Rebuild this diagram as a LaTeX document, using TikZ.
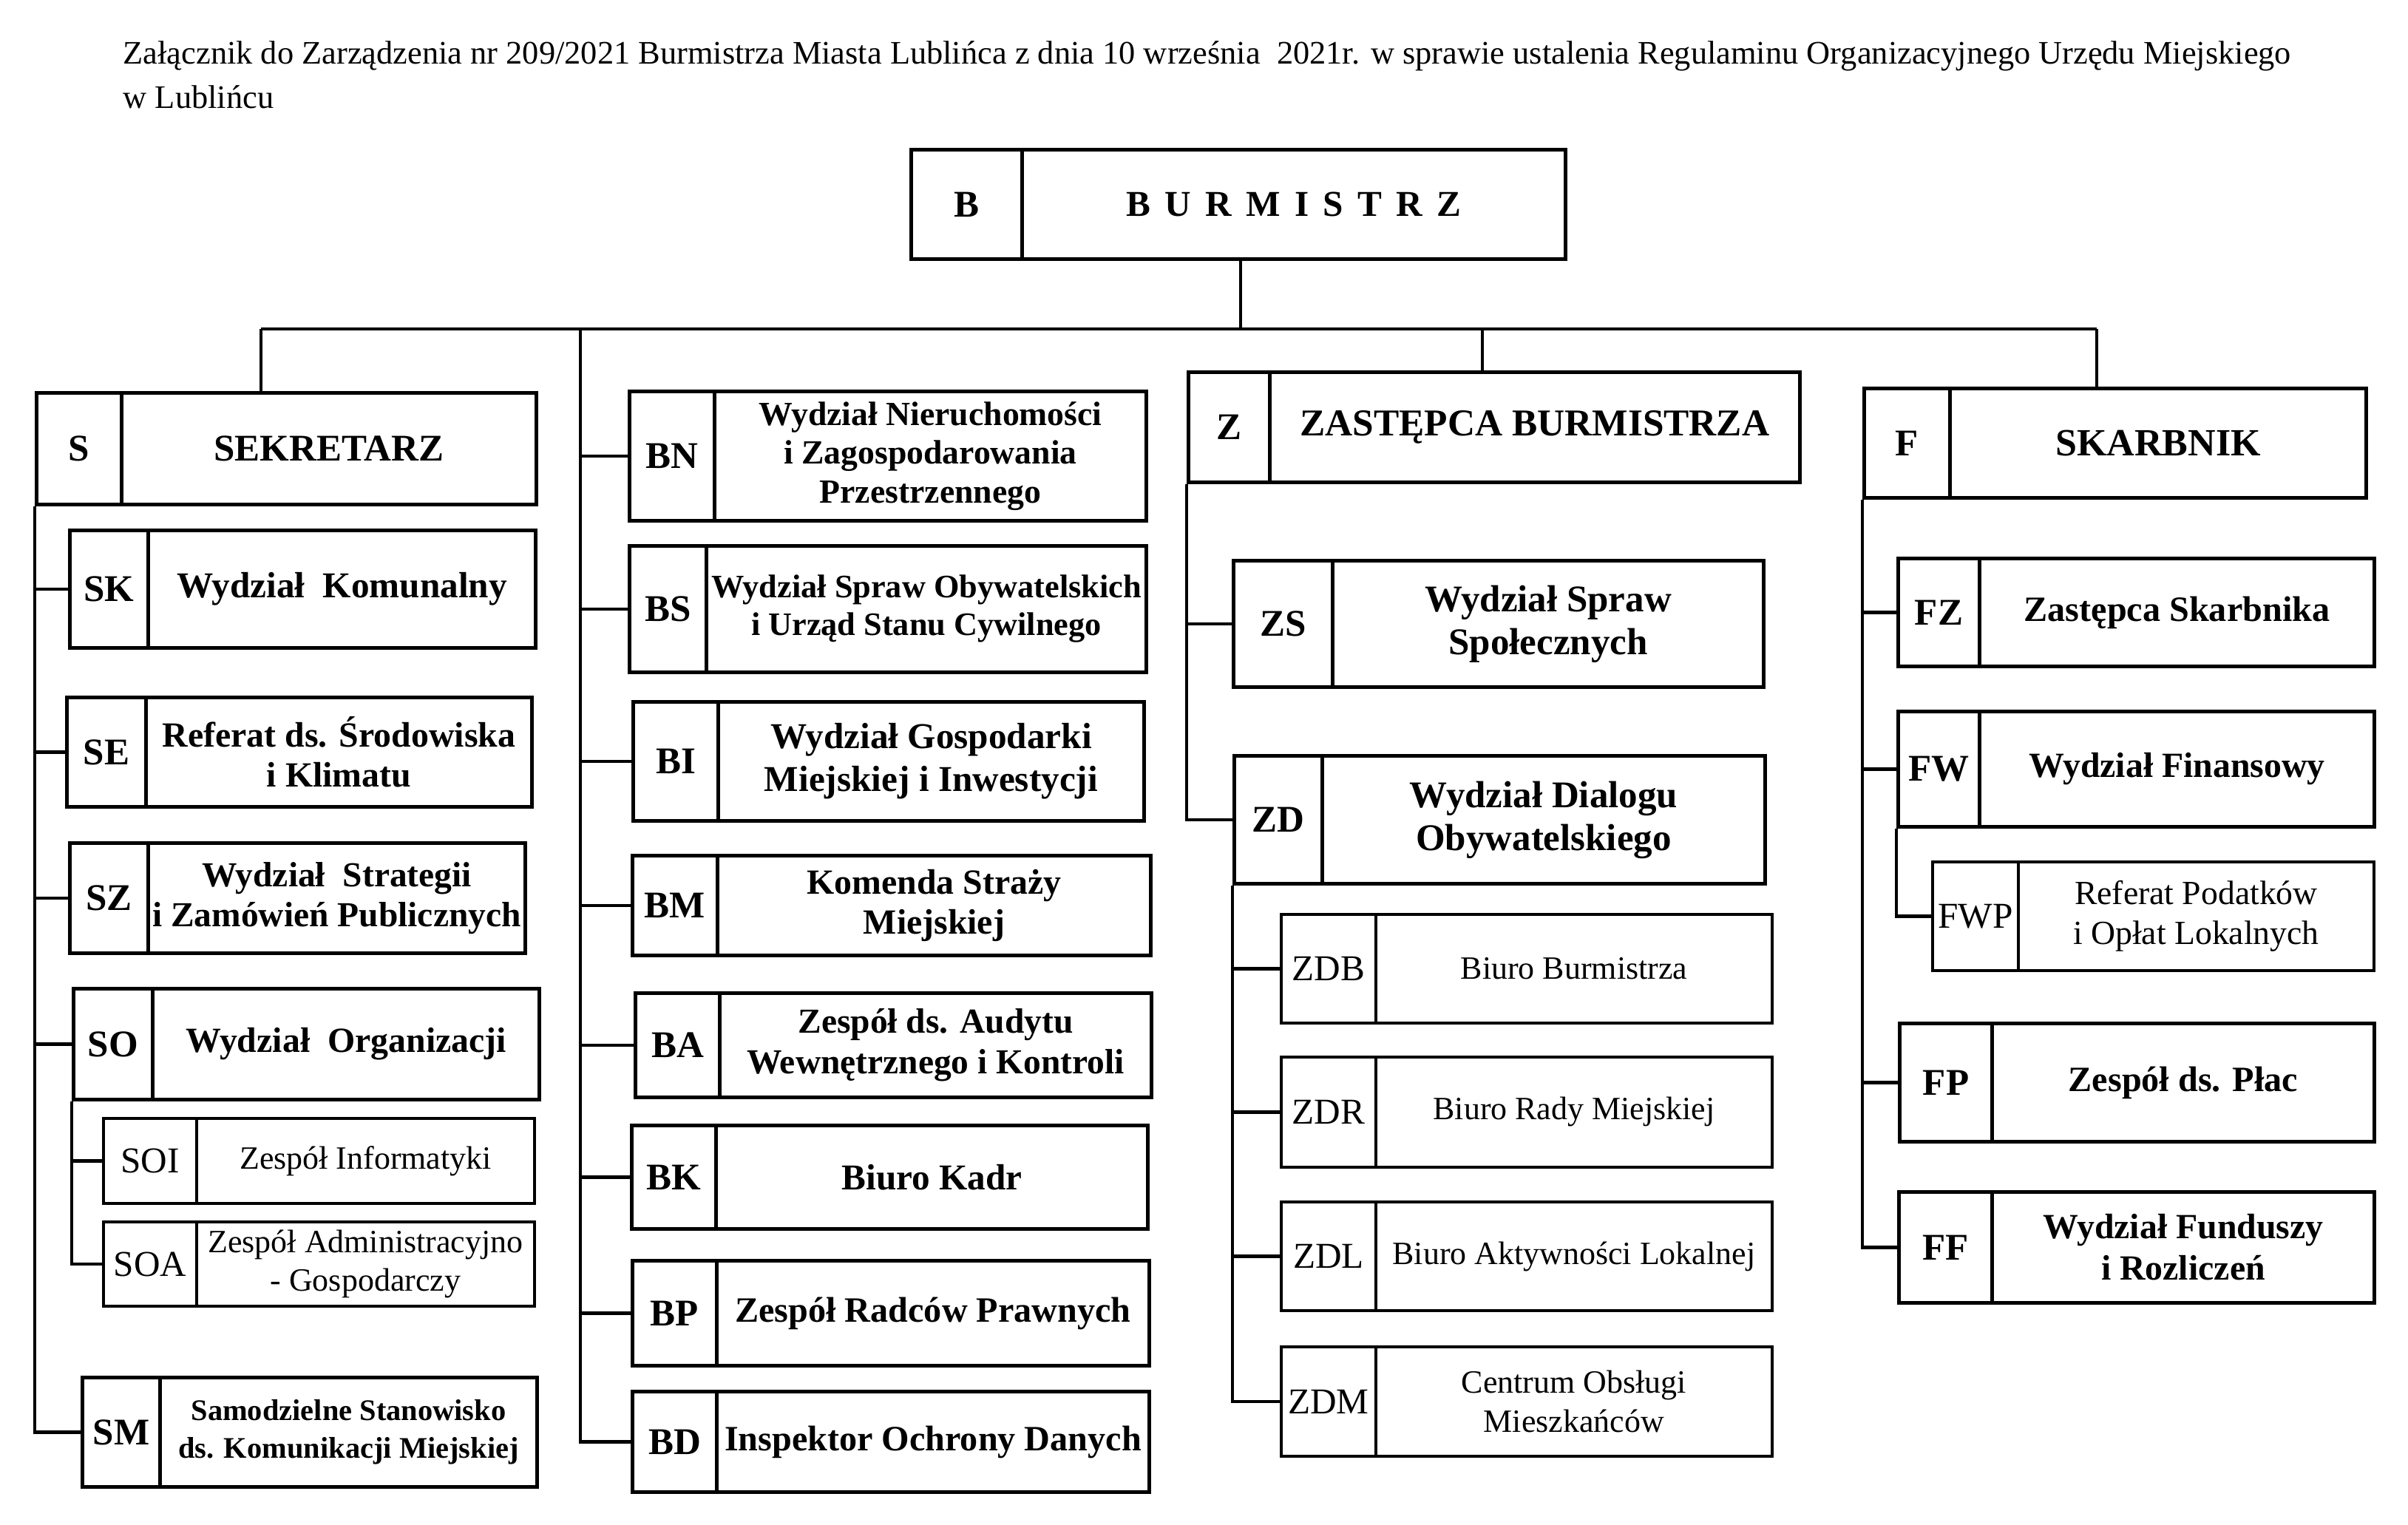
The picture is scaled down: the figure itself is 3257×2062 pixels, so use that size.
\documentclass[tikz,border=0pt]{standalone}
\usepackage{fontspec}
\setmainfont{Liberation Serif}
\newcommand{\fs}[2]{\fontsize{#1}{#2}\selectfont}
\newcommand{\lsp}{\kern5.5pt}
\tikzset{
  unitbox/.style={draw, line width=1.4pt, inner sep=0pt, align=center, anchor=north west},
  subbox/.style={draw, line width=1.1pt, inner sep=0pt, align=center, anchor=north west},
  codefont/.style={font=\bfseries\fs{14.5}{16}},
  namefont/.style={font=\bfseries\fs{14}{16}},
  subcodefont/.style={font=\fs{14}{16}},
  subnamefont/.style={font=\fs{12.5}{15}},
  conn/.style={line width=1.2pt, line join=miter},
  titletext/.style={anchor=base west, inner sep=0pt, font=\fs{12.63}{15}}
}
% #1 name, #2 x1, #3 y1, #4 x divider, #5 x2, #6 y2, #7 extra name options, #8 code, #9 text
\newcommand{\orgunit}[9]{%
  \pgfmathsetmacro\wa{(#4-#2)*0.01}%
  \pgfmathsetmacro\wb{(#5-#4)*0.01}%
  \pgfmathsetmacro\hh{(#6-#3)*0.01}%
  \node[unitbox, codefont, minimum width=\wa cm, minimum height=\hh cm] (#1c) at (#2,#3) {#8};
  \node[unitbox, namefont, #7, minimum width=\wb cm, minimum height=\hh cm] (#1n) at (#4,#3) {#9};}
\newcommand{\subunit}[9]{%
  \pgfmathsetmacro\wa{(#4-#2)*0.01}%
  \pgfmathsetmacro\wb{(#5-#4)*0.01}%
  \pgfmathsetmacro\hh{(#6-#3)*0.01}%
  \node[subbox, subcodefont, minimum width=\wa cm, minimum height=\hh cm] (#1c) at (#2,#3) {#8};
  \node[subbox, subnamefont, #7, minimum width=\wb cm, minimum height=\hh cm] (#1n) at (#4,#3) {#9};}
\begin{document}
\begin{tikzpicture}[x=0.01cm, y=-0.01cm]
\useasboundingbox[fill=white] (0,0) rectangle (3257,2062);

% title
\node[titletext] (title1) at (166,86) {Załącznik do Zarządzenia nr 209/2021 Burmistrza Miasta Lublińca z dnia 10 września\ \ 2021r. w sprawie ustalenia Regulaminu Organizacyjnego Urzędu Miejskiego};
\node[titletext] (title2) at (166,146) {w Lublińcu};

% Burmistrz
\orgunit{B}{1230}{200}{1380}{2115}{348}{}{B}{B\lsp U\lsp R\lsp M\lsp I\lsp S\lsp T\lsp R\lsp Z}

% Sekretarz column
\orgunit{S}{47}{529}{162}{723}{680}{font=\bfseries\fs{14.5}{16}}{S}{SEKRETARZ}
\orgunit{SK}{92}{715}{198}{722}{874}{}{SK}{Wydział\ \ Komunalny}
\orgunit{SE}{88}{941}{195}{717}{1089}{font=\bfseries\fs{13.6}{15.5}}{SE}{Referat ds. Środowiska\\i Klimatu}
\orgunit{SZ}{92}{1138}{198}{708}{1287}{font=\bfseries\fs{13.5}{15.5}}{SZ}{Wydział\ \ Strategii\\i Zamówień Publicznych}
\orgunit{SO}{97}{1335}{204}{727}{1485}{font=\bfseries\fs{13.6}{16}}{SO}{Wydział\ \ Organizacji}
\subunit{SOI}{138}{1511}{264}{721}{1626}{}{SOI}{Zespół Informatyki}
\subunit{SOA}{138}{1651}{264}{721}{1765}{}{SOA}{Zespół Administracyjno\\- Gospodarczy}
\orgunit{SM}{109}{1861}{214}{724}{2009}{font=\bfseries\fs{11.5}{14.5}}{SM}{Samodzielne Stanowisko\\ds. Komunikacji Miejskiej}

% Burmistrz column
\orgunit{BN}{849}{527}{964}{1548}{702}{font=\bfseries\fs{13}{15}}{BN}{Wydział Nieruchomości\\i Zagospodarowania\\Przestrzennego}
\orgunit{BS}{849}{736}{953}{1548}{907}{font=\bfseries\fs{12.6}{14.5}}{BS}{Wydział Spraw Obywatelskich\\i Urząd Stanu Cywilnego}
\orgunit{BI}{854}{947}{969}{1545}{1108}{font=\bfseries\fs{14}{16.5}}{BI}{Wydział Gospodarki\\Miejskiej i Inwestycji}
\orgunit{BM}{853}{1155}{968}{1554}{1290}{font=\bfseries\fs{13.6}{15.5}}{BM}{Komenda Straży\\Miejskiej}
\orgunit{BA}{857}{1341}{971}{1555}{1482}{font=\bfseries\fs{13.5}{15.5}}{BA}{Zespół ds. Audytu\\Wewnętrznego i Kontroli}
\orgunit{BK}{852}{1520}{966}{1550}{1660}{}{BK}{Biuro Kadr}
\orgunit{BP}{853}{1703}{967}{1552}{1845}{font=\bfseries\fs{13.7}{16}}{BP}{Zespół Radców Prawnych}
\orgunit{BD}{853}{1880}{967}{1552}{2016}{font=\bfseries\fs{13.7}{16}}{BD}{Inspektor Ochrony Danych}

% Zastepca column
\orgunit{Z}{1605}{501}{1715}{2432}{650}{font=\bfseries\fs{14.6}{16}}{Z}{ZASTĘPCA BURMISTRZA}
\orgunit{ZS}{1666}{756}{1800}{2383}{927}{font=\bfseries\fs{14.5}{16.5}}{ZS}{Wydział Spraw\\Społecznych}
\orgunit{ZD}{1667}{1020}{1786}{2385}{1193}{font=\bfseries\fs{14.5}{16.5}}{ZD}{Wydział Dialogu\\Obywatelskiego}
\subunit{ZDB}{1731}{1235}{1859}{2395}{1382}{}{ZDB}{Biuro Burmistrza}
\subunit{ZDR}{1731}{1428}{1859}{2395}{1577}{}{ZDR}{Biuro Rady Miejskiej}
\subunit{ZDL}{1731}{1624}{1859}{2395}{1771}{}{ZDL}{Biuro Aktywności Lokalnej}
\subunit{ZDM}{1731}{1820}{1859}{2395}{1968}{}{ZDM}{Centrum Obsługi\\Mieszkańców}

% Skarbnik column
\orgunit{F}{2519}{523}{2635}{3198}{671}{font=\bfseries\fs{14.8}{16}}{F}{SKARBNIK}
\orgunit{FZ}{2565}{753}{2675}{3209}{899}{font=\bfseries\fs{13.7}{16}}{FZ}{Zastępca Skarbnika}
\orgunit{FW}{2565}{960}{2675}{3209}{1116}{font=\bfseries\fs{13.6}{16}}{FW}{Wydział Finansowy}
\subunit{FWP}{2612}{1164}{2728}{3209}{1311}{font=\fs{13}{15.5}}{FWP}{Referat Podatków\\i Opłat Lokalnych}
\orgunit{FP}{2567}{1382}{2692}{3209}{1542}{font=\bfseries\fs{13.7}{16}}{FP}{Zespół ds. Płac}
\orgunit{FF}{2566}{1610}{2692}{3209}{1760}{font=\bfseries\fs{13.6}{16}}{FF}{Wydział Funduszy\\i Rozliczeń}

% bus and drops
\coordinate (dropS) at (353,445);
\coordinate (dropB) at (785,445);
\coordinate (dropM) at (1678,445);
\coordinate (dropZ) at (2005,445);
\coordinate (dropF) at (2836,445);
\draw[conn] (dropM |- Bn.south) -- (dropM);
\draw[conn] (dropS) -- (dropF);
\draw[conn] (dropS) -- (dropS |- Sn.north);
\draw[conn] (dropZ) -- (dropZ |- Zn.north);
\draw[conn] (dropF) -- (dropF |- Fn.north);

% Sekretarz connectors
\draw[conn] (Sc.south west) |- (SMc.west);
\foreach \u in {SK,SE,SZ,SO}{\draw[conn] (Sc.south west |- \u c.west) -- (\u c.west);}
\draw[conn] (SOc.south west) |- (SOAc.west);
\draw[conn] (SOc.south west |- SOIc.west) -- (SOIc.west);

% Burmistrz column connectors
\draw[conn] (dropB) |- (BDc.west);
\foreach \u in {BN,BS,BI,BM,BA,BK,BP}{\draw[conn] (dropB |- \u c.west) -- (\u c.west);}

% Zastepca connectors
\draw[conn] (Zc.south west) |- (ZDc.west);
\draw[conn] (Zc.south west |- ZSc.west) -- (ZSc.west);
\draw[conn] (ZDc.south west) |- (ZDMc.west);
\foreach \u in {ZDB,ZDR,ZDL}{\draw[conn] (ZDc.south west |- \u c.west) -- (\u c.west);}

% Skarbnik connectors
\draw[conn] (Fc.south west) |- (FFc.west);
\foreach \u in {FZ,FW,FP}{\draw[conn] (Fc.south west |- \u c.west) -- (\u c.west);}
\draw[conn] (FWc.south west) |- (FWPc.west);
\end{tikzpicture}
\end{document}
